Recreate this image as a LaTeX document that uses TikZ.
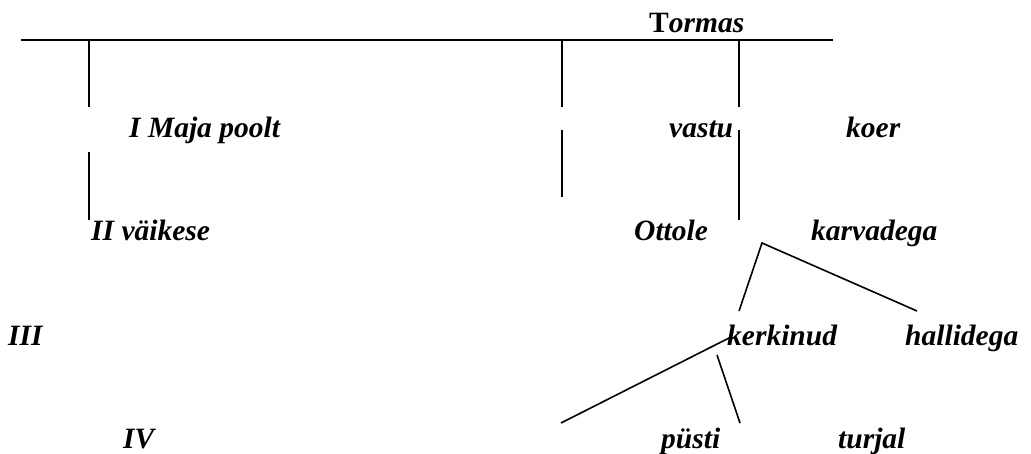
\documentclass[tikz,border=0pt]{standalone}
\usepackage{fontspec}
\setmainfont{Liberation Serif}
\begin{document}
\begin{tikzpicture}[x=1pt,y=-1pt,
  word/.style={anchor=base west,inner sep=0pt,font=\fontsize{29.5}{33}\selectfont\bfseries\itshape},
  ln/.style={line width=1.6pt}]
\useasboundingbox (0,0) rectangle (1031,454);
% words
\node[word] (tormas) at (649,33) {{\upshape T}ormas};
\node[word] (maja) at (129,138) {I Maja poolt};
\node[word] (vastu) at (669,138) {vastu};
\node[word] (koer) at (846,138) {koer};
\node[word] (vaikese) at (91,241) {II väikese};
\node[word] (ottole) at (634,241) {Ottole};
\node[word] (karvadega) at (811,241) {karvadega};
\node[word] (iii) at (8,345) {III};
\node[word] (kerkinud) at (727,345) {kerkinud};
\node[word] (hallidega) at (905,345) {hallidega};
\node[word] (iv) at (123,448) {IV};
\node[word] (pusti) at (661,448) {püsti};
\node[word] (turjal) at (838,448) {turjal};
% line end points
\coordinate (h1) at (21,40);
\coordinate (h2) at (833,40);
\coordinate (a1) at (89,40);
\coordinate (a2) at (89,107);
\coordinate (a3) at (89,152);
\coordinate (a4) at (89,220);
\coordinate (b1) at (562,40);
\coordinate (b2) at (562,107);
\coordinate (b3) at (562,130);
\coordinate (b4) at (562,197);
\coordinate (c1) at (739,40);
\coordinate (c2) at (739,107);
\coordinate (c3) at (739,130);
\coordinate (c4) at (739,220);
\coordinate (d0) at (762,243);
\coordinate (d1) at (739,311);
\coordinate (d2) at (917,311);
\coordinate (e1) at (731,337);
\coordinate (e2) at (561,423);
\coordinate (f1) at (717,355);
\coordinate (f2) at (740,423);
% lines
\draw[ln] (h1) -- (h2);
\draw[ln] (a1) -- (a2);
\draw[ln] (a3) -- (a4);
\draw[ln] (b1) -- (b2);
\draw[ln] (b3) -- (b4);
\draw[ln] (c1) -- (c2);
\draw[ln] (c3) -- (c4);
\draw[ln] (d1) -- (d0) -- (d2);
\draw[ln] (e1) -- (e2);
\draw[ln] (f1) -- (f2);
\end{tikzpicture}
\end{document}
